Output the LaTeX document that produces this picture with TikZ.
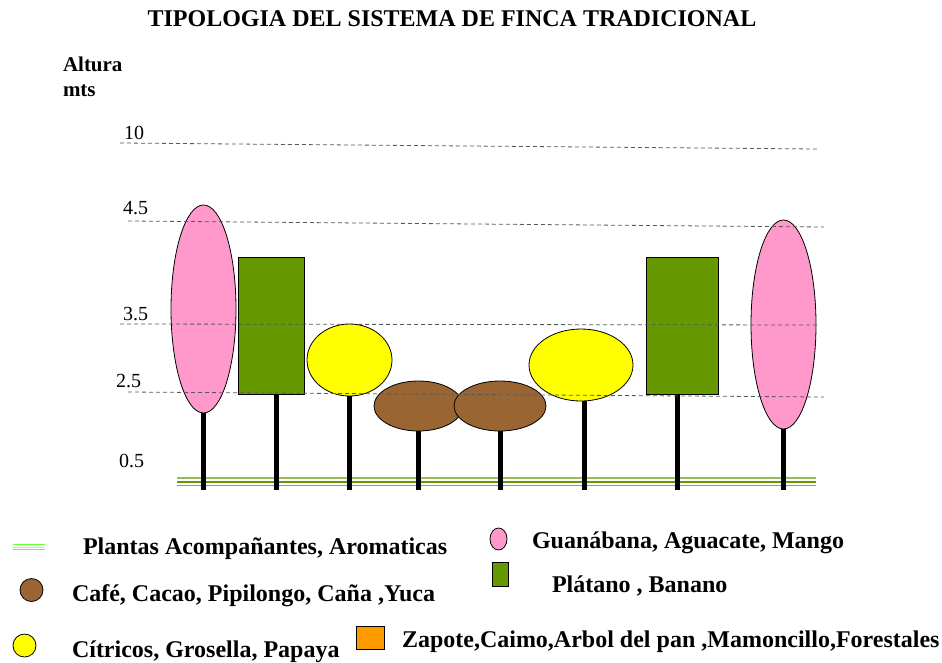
\documentclass[tikz,border=0pt]{standalone}
\usepackage{fontspec}
\setmainfont{Liberation Serif}
\usetikzlibrary{shapes.geometric}

\definecolor{rosa}{HTML}{FF99CC}
\definecolor{verde}{HTML}{669900}
\definecolor{amarillo}{HTML}{FFFF00}
\definecolor{cafe}{HTML}{996633}
\definecolor{naranja}{HTML}{FF9900}
\definecolor{pasto}{HTML}{66FF33}
\definecolor{suelo}{HTML}{99BB55}

\begin{document}
\begin{tikzpicture}[x=1pt, y=-1pt,
  every node/.style={inner sep=0pt, outer sep=0pt},
  titulo/.style={font=\bfseries\fontsize{24}{28}\selectfont, anchor=base},
  rotulo/.style={font=\bfseries\fontsize{24}{28}\selectfont, anchor=base west},
  eje/.style={font=\bfseries\fontsize{21}{25}\selectfont, anchor=base west},
  cota/.style={font=\fontsize{20}{24}\selectfont, anchor=base west},
  ovalo/.style={ellipse, draw, line width=0.8pt},
  caja/.style={rectangle, draw, line width=0.8pt},
  tallo/.style={line width=5pt},
  nivel/.style={dash pattern=on 4pt off 3pt, black!65, line width=0.8pt}]
  \useasboundingbox (0,0) rectangle (942,662);

  % Title
  \node[titulo] (titulo) at (452,26) {TIPOLOGIA DEL SISTEMA DE FINCA TRADICIONAL};
  \node[eje] (altura) at (63,71) {Altura};
  \node[eje] (mts) at (63,96) {mts};

  % Ground
  \draw[suelo, line width=1.5pt] (177,478) -- (816,478);
  \draw[verde, line width=1.5pt] (177,482) -- (816,482);
  \draw[verde!80, line width=1.5pt] (177,485.5) -- (816,485.5);

  % Canopies
  \node[ovalo, fill=rosa, minimum width=65, minimum height=208] (guan1) at (203.5,309) {};
  \node[caja, fill=verde, minimum width=66, minimum height=137] (plat1) at (271,325.5) {};
  \node[ovalo, fill=amarillo, minimum width=85, minimum height=72] (citr1) at (349.5,360) {};
  \node[ovalo, fill=cafe, minimum width=89, minimum height=50] (caf1) at (418.5,406) {};
  \node[ovalo, fill=cafe, minimum width=92, minimum height=50] (caf2) at (500,406) {};
  \node[ovalo, fill=amarillo, minimum width=104, minimum height=72] (citr2) at (581,365) {};
  \node[caja, fill=verde, minimum width=72, minimum height=137] (plat2) at (682,325.5) {};
  \node[ovalo, fill=rosa, minimum width=65, minimum height=209] (guan2) at (783.5,324.5) {};

  % Trunks
  \coordinate (base) at (0,490);
  \draw[tallo] (guan1.south) -- (guan1.south |- base);
  \draw[tallo] ([xshift=5pt]plat1.south) -- ([xshift=5pt]plat1.south |- base);
  \draw[tallo] (citr1.south) -- (citr1.south |- base);
  \draw[tallo] (caf1.south) -- (caf1.south |- base);
  \draw[tallo] (caf2.south) -- (caf2.south |- base);
  \draw[tallo] ([xshift=3pt]citr2.south) -- ([xshift=3pt]citr2.south |- base);
  \draw[tallo] ([xshift=-5pt]plat2.south) -- ([xshift=-5pt]plat2.south |- base);
  \draw[tallo] (guan2.south) -- (guan2.south |- base);

  % Height levels
  \node[cota] (c10) at (124,139) {10};
  \draw[nivel] (120,143) -- (818,149);
  \node[cota] (c45) at (123,214) {4.5};
  \draw[nivel] (128,221) -- (824,227);
  \node[cota] (c35) at (123,320) {3.5};
  \draw[nivel] (120,324) -- (818,325);
  \node[cota] (c25) at (116,387) {2.5};
  \draw[nivel] (128,392) -- (824,397);
  \node[cota] (c05) at (119,467) {0.5};

  % Legend
  \draw[pasto, line width=1.2pt] (13,544.5) -- (45,544.5);
  \draw[pasto!50, line width=1pt] (13,547) -- (45,547);
  \draw[pasto, line width=1.2pt] (13,549.5) -- (45,549.5);
  \node[rotulo] (t-pasto) at (83,554) {Plantas Acompañantes, Aromaticas};
  \node[ovalo, fill=cafe, minimum size=23] (l-cafe) at (31.5,590) {};
  \node[rotulo] (t-cafe) at (72,601) {Café, Cacao, Pipilongo, Caña ,Yuca};
  \node[ovalo, fill=amarillo, minimum size=23] (l-citr) at (24.5,645.5) {};
  \node[rotulo] (t-citr) at (72,657) {Cítricos, Grosella, Papaya};
  \node[caja, fill=naranja, minimum width=28, minimum height=23] (l-zap) at (370,638) {};
  \node[rotulo] (t-zap) at (402,647) {Zapote,Caimo,Arbol del pan ,Mamoncillo,Forestales};
  \node[ovalo, fill=rosa, minimum width=17, minimum height=22] (l-guan) at (498.5,539) {};
  \node[rotulo] (t-guan) at (532,548) {Guanábana, Aguacate, Mango};
  \node[caja, fill=verde, minimum width=16, minimum height=24] (l-plat) at (500,574) {};
  \node[rotulo] (t-plat) at (552,592) {Plátano , Banano};
\end{tikzpicture}
\end{document}
